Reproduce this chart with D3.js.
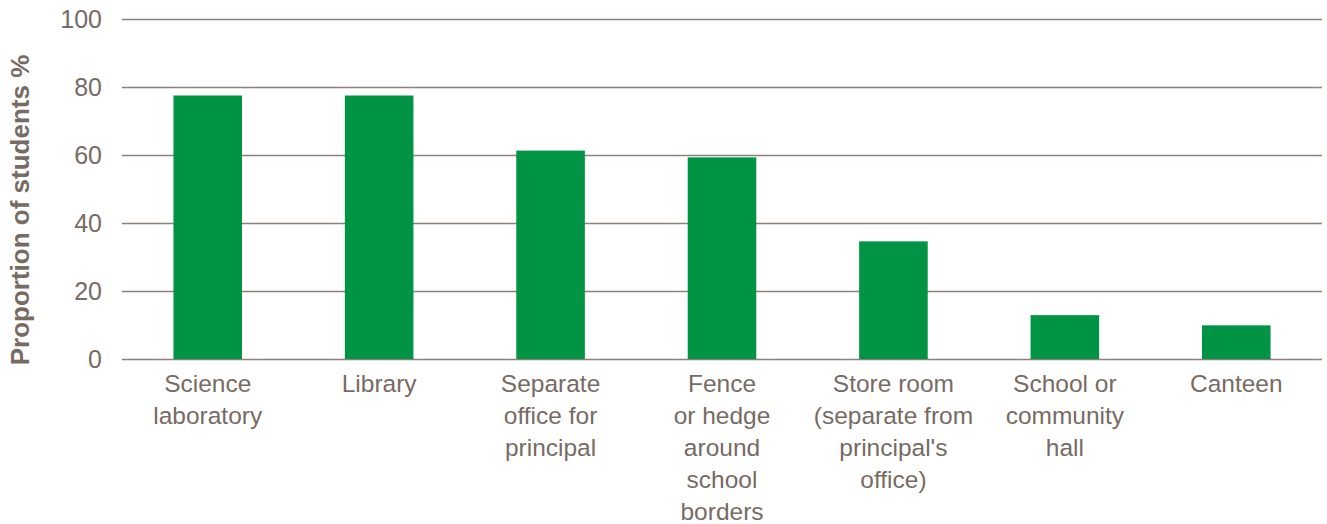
<!DOCTYPE html>
<html>
<head>
<meta charset="utf-8">
<script src="https://cdn.jsdelivr.net/npm/d3@7"></script>
<style>
  body { margin: 0; background: #fff; }
  text { font-family: "Liberation Sans", Arial, sans-serif; fill: #776b64; }
</style>
</head>
<body>
<svg class="chart"></svg>
<script>
// categories (label lines) and values
var categories = ["Science laboratory", "Library", "Separate office for principal",
    "Fence or hedge around school borders", "Store room (separate from principal's office)",
    "School or community hall", "Canteen"];
var labelLines = [
    ["Science", "laboratory"],
    ["Library"],
    ["Separate", "office for", "principal"],
    ["Fence", "or hedge", "around", "school", "borders"],
    ["Store room", "(separate from", "principal's", "office)"],
    ["School or", "community", "hall"],
    ["Canteen"]
];
var values = [77.5, 77.5, 61.3, 59.3, 34.6, 12.9, 9.9];
var yTicks = [0, 20, 40, 60, 80, 100];
var yLabel = "Proportion of students %";

var width = 1327, height = 524;
var margin = {top: 19, right: 5, bottom: 165, left: 122};
var innerW = width - margin.left - margin.right,
    innerH = height - margin.top - margin.bottom;

var svg = d3.select(".chart")
    .attr("width", width)
    .attr("height", height);

var g = svg.append("g")
    .attr("transform", "translate(" + margin.left + "," + margin.top + ")");

var x = d3.scaleBand()
    .domain(categories)
    .range([0, innerW])
    .paddingInner(0.6)
    .paddingOuter(0.3);

var y = d3.scaleLinear()
    .domain([0, 100])
    .range([innerH, 0]);

// gridlines
g.append("g")
    .attr("class", "grid")
    .call(d3.axisLeft(y).tickValues(yTicks).tickSize(-innerW).tickFormat(""))
    .call(function(s) { s.select(".domain").remove(); })
    .selectAll("line")
    .attr("stroke", "#8c8079")
    .attr("stroke-width", 1.3);

// bars
g.selectAll("rect.bar")
    .data(values)
    .enter()
    .append("rect")
    .attr("class", "bar")
    .attr("x", function(d, i) { return x(categories[i]); })
    .attr("y", function(d) { return y(d); })
    .attr("width", x.bandwidth())
    .attr("height", function(d) { return innerH - y(d); })
    .attr("fill", "#009444");

// y axis tick labels
var yAxis = g.append("g")
    .call(d3.axisLeft(y).tickValues(yTicks).tickSize(0).tickPadding(20));
yAxis.select(".domain").remove();
yAxis.selectAll("text")
    .style("font-size", "25px")
    .style("font-family", "Liberation Sans, Arial, sans-serif")
    .attr("fill", "#7a6e67");

// x axis labels (multi-line)
var xAxis = g.append("g")
    .attr("transform", "translate(0," + innerH + ")")
    .call(d3.axisBottom(x).tickSize(0).tickFormat(""));
xAxis.select(".domain").remove();

xAxis.selectAll(".tick")
    .append("text")
    .attr("text-anchor", "middle")
    .style("font-size", "24.5px")
    .attr("fill", "#7a6e67")
    .each(function(d, i) {
        var t = d3.select(this);
        labelLines[i].forEach(function(line, j) {
            t.append("tspan")
                .attr("x", 0)
                .attr("y", 33 + j * 32)
                .text(line);
        });
    });

// y axis title
svg.append("text")
    .attr("transform", "translate(29," + (margin.top + innerH / 2 + 21) + ") rotate(-90)")
    .attr("text-anchor", "middle")
    .style("font-size", "26px")
    .style("font-weight", "bold")
    .attr("fill", "#766a62")
    .text(yLabel);
</script>
</body>
</html>
